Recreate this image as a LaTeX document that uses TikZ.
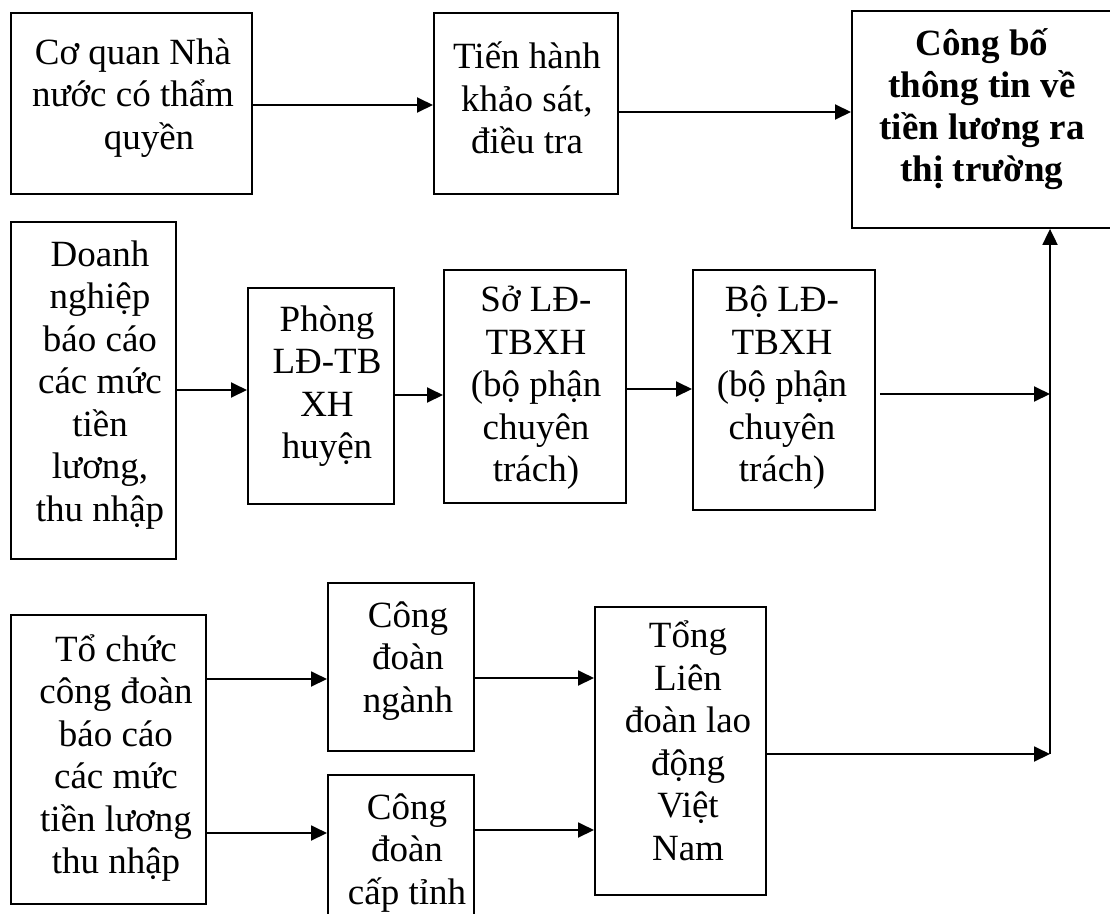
\documentclass[tikz,border=0pt]{standalone}
\usepackage{fontspec}
\setmainfont{Liberation Serif}
\usetikzlibrary{arrows.meta}
\begin{document}
\begin{tikzpicture}[x=1pt,y=-1pt,
  box/.style={draw, line width=1.9pt, inner sep=0pt, anchor=north west},
  lbl/.style={align=center, inner sep=0pt, font=\fontsize{37}{42.5}\selectfont},
  boldlbl/.style={lbl, font=\fontsize{37}{42}\selectfont\bfseries},
  arr/.style={line width=1.9pt, -{Triangle[length=16pt,width=15pt]}}]
\clip (0,0) rectangle (1110,913);
\fill[white] (0,0) rectangle (1110,913);

% boxes
\node[box, minimum width=241pt, minimum height=181pt] (b1) at (10,12) {};
\node[box, minimum width=184pt, minimum height=181pt] (b2) at (433,12) {};
\node[box, minimum width=263pt, minimum height=217pt] (b3) at (851,10) {};
\node[box, minimum width=165pt, minimum height=337pt] (dn) at (10,221) {};
\node[box, minimum width=146pt, minimum height=216pt] (ph) at (247,287) {};
\node[box, minimum width=182pt, minimum height=233pt] (so) at (443,269) {};
\node[box, minimum width=182pt, minimum height=240pt] (bo) at (692,269) {};
\node[box, minimum width=195pt, minimum height=289pt] (tc) at (10,614) {};
\node[box, minimum width=146pt, minimum height=168pt] (cn) at (327,582) {};
\node[box, minimum width=146pt, minimum height=170pt] (ct) at (327,774) {};
\node[box, minimum width=171pt, minimum height=288pt] (tl) at (594,606) {};

% texts
\node[lbl] (t1) at (133,98) {Cơ quan Nhà\\nước có thẩm\\\hspace*{32pt}quyền};
\node[lbl] (t2) at (527,98) {Tiến hành\\khảo sát,\\điều tra};
\node[boldlbl] (t3) at (982,109) {Công bố\\thông tin về\\tiền lương ra\\thị trường};
\node[lbl] (tdn) at (100,385) {Doanh\\nghiệp\\báo cáo\\các mức\\tiền\\lương,\\thu nhập};
\node[lbl] (tph) at (327,386) {Phòng\\LĐ-TB\\XH\\huyện};
\node[lbl] (tso) at (536,388) {Sở LĐ-\\TBXH\\(bộ phận\\chuyên\\trách)};
\node[lbl] (tbo) at (782,388) {Bộ LĐ-\\TBXH\\(bộ phận\\chuyên\\trách)};
\node[lbl] (ttc) at (116,758) {Tổ chức\\công đoàn\\báo cáo\\các mức\\tiền lương\\thu nhập};
\node[lbl] (tcn) at (408,661) {Công\\đoàn\\ngành};
\node[lbl] (tct) at (407,853) {Công\\đoàn\\cấp tỉnh};
\node[lbl] (ttl) at (688,741) {Tổng\\Liên\\đoàn lao\\động\\Việt\\Nam};

% rows of the connectors
\coordinate (r1) at (0,105);
\coordinate (r2) at (0,112);
\coordinate (r3) at (0,390);
\coordinate (r4) at (0,395);
\coordinate (r5) at (0,389);
\coordinate (r7) at (0,679);
\coordinate (r8) at (0,833);
\coordinate (r9) at (0,678);
\coordinate (r10) at (0,830);
\coordinate (j1) at (1050,394);
\coordinate (j2) at (1050,754);
\coordinate (bo1) at ([xshift=4pt]bo.east);

% connectors
\draw[arr] (b1.east |- r1) -- (b2.west |- r1);
\draw[arr] (b2.east |- r2) -- (b3.west |- r2);
\draw[arr] (dn.east |- r3) -- (ph.west |- r3);
\draw[arr] (ph.east |- r4) -- (so.west |- r4);
\draw[arr] (so.east |- r5) -- (bo.west |- r5);
\draw[arr] (bo1 |- j1) -- (j1);
\draw[arr] (tc.east |- r7) -- (cn.west |- r7);
\draw[arr] (tc.east |- r8) -- (ct.west |- r8);
\draw[arr] (cn.east |- r9) -- (tl.west |- r9);
\draw[arr] (ct.east |- r10) -- (tl.west |- r10);
\draw[arr] (tl.east |- j2) -- (j2);
\draw[arr] (j2) -- (b3.south -| j2);
\end{tikzpicture}
\end{document}
